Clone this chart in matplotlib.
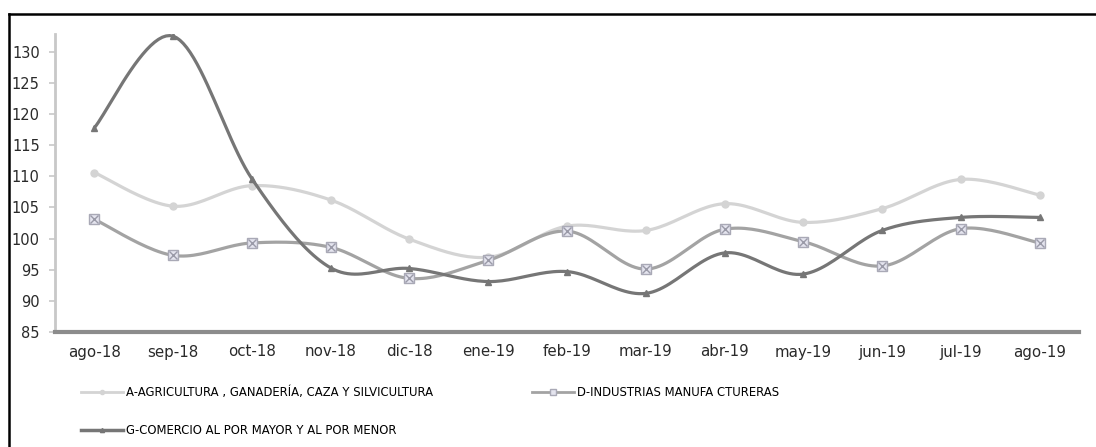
import numpy as np
import matplotlib
matplotlib.use("Agg")
import matplotlib.pyplot as plt
from matplotlib.lines import Line2D

months = ["ago-18", "sep-18", "oct-18", "nov-18", "dic-18", "ene-19", "feb-19",
          "mar-19", "abr-19", "may-19", "jun-19", "jul-19", "ago-19"]
agri = [110.6, 105.2, 108.5, 106.2, 99.9, 97.0, 102.0, 101.3, 105.6, 102.6, 104.8, 109.5, 107.0]
indus = [103.1, 97.3, 99.3, 98.6, 93.6, 96.5, 101.2, 95.1, 101.5, 99.5, 95.6, 101.6, 99.3]
comer = [117.8, 132.5, 109.6, 95.3, 95.2, 93.1, 94.7, 91.2, 97.7, 94.3, 101.3, 103.4, 103.4]
names = ["A-AGRICULTURA , GANADERÍA, CAZA Y SILVICULTURA",
         "D-INDUSTRIAS MANUFA CTURERAS",
         "G-COMERCIO AL POR MAYOR Y AL POR MENOR"]
yticks = [85, 90, 95, 100, 105, 110, 115, 120, 125, 130]

c_a, c_d, c_g = "#d4d4d4", "#a3a3a3", "#767676"

def smooth(y, n=24):
    y = np.asarray(y, float)
    x = np.arange(len(y), dtype=float)
    P = np.column_stack([x, y])
    P = np.vstack([P[0], P, P[-1]])
    out = []
    t = np.linspace(0, 1, n)[:, None]
    for i in range(1, len(P) - 2):
        p0, p1, p2, p3 = P[i - 1], P[i], P[i + 1], P[i + 2]
        c1 = p1 + (p2 - p0) / 6.0
        c2 = p2 - (p3 - p1) / 6.0
        seg = ((1 - t) ** 3) * p1 + 3 * ((1 - t) ** 2) * t * c1 + 3 * (1 - t) * t ** 2 * c2 + t ** 3 * p2
        out.append(seg if i == 1 else seg[1:])
    s = np.vstack(out)
    return s[:, 0], s[:, 1]

plt.rcParams['font.family'] = ['DejaVu Sans']
fig = plt.figure(figsize=(10.96, 4.47), dpi=100)
ax = fig.add_axes([55 / 1096, 1 - 332 / 447, (1079 - 55) / 1096, (332 - 34) / 447])

x = np.arange(len(months))
lw = 2.3
sx, sy = smooth(agri)
ax.plot(sx, sy, color=c_a, lw=lw, solid_capstyle='round', zorder=2)
ax.plot(x, agri, ls='none', marker='o', ms=5, color=c_a, zorder=3)

sx, sy = smooth(indus)
ax.plot(sx, sy, color=c_d, lw=lw, solid_capstyle='round', zorder=4)
ax.plot(x, indus, ls='none', marker='s', ms=7, mfc="#e4e4ee", mec="#a9a9b6", mew=1, zorder=5)
ax.plot(x, indus, ls='none', marker='x', ms=5.5, mec="#9a9aa8", mew=1, zorder=6)

sx, sy = smooth(comer)
ax.plot(sx, sy, color=c_g, lw=lw, solid_capstyle='round', zorder=7)
ax.plot(x, comer, ls='none', marker='^', ms=5, color=c_g, zorder=8)

ax.set_xlim(-0.5, len(months) - 0.5)
ax.set_ylim(85, 132.85)
ax.set_yticks(yticks)
ax.set_xticks(x)
ax.set_xticklabels(months)
ax.tick_params(axis='y', direction='out', length=4, width=1.2, color="#c8c8c8",
               pad=7, labelsize=10.5, labelcolor="#2a2a2a")
ax.tick_params(axis='x', length=0, pad=9, labelsize=10.8, labelcolor="#2a2a2a")
for s in ['top', 'right']:
    ax.spines[s].set_visible(False)
ax.spines['left'].set_color("#c8c8c8")
ax.spines['left'].set_linewidth(2)
ax.spines['bottom'].set_color("#8c8c8c")
ax.spines['bottom'].set_linewidth(3)

# legend handles
h_a = Line2D([], [], color=c_a, lw=2, marker='o', ms=3)
h_d = Line2D([], [], color=c_d, lw=2, marker='s', ms=4, mfc="#e4e4ee", mec="#a9a9b6")
h_g = Line2D([], [], color=c_g, lw=2.5, marker='^', ms=3)
leg_kw = dict(frameon=False, fontsize=8.4, handlelength=3.6, handletextpad=0.25,
              labelspacing=2.15, borderaxespad=0, borderpad=0)
fig.legend([h_a, h_g], [names[0], names[2]], loc='upper left',
           bbox_to_anchor=(81 / 1096, 1 - 386 / 447), **leg_kw)
fig.legend([h_d], [names[1]], loc='upper left',
           bbox_to_anchor=(532 / 1096, 1 - 386 / 447), **leg_kw)

# partial outer frame (top and left edges)
fig.add_artist(Line2D([8.5 / 1096, 8.5 / 1096], [0, 1 - 14 / 447], transform=fig.transFigure,
                      color='black', lw=1.8))
fig.add_artist(Line2D([8.5 / 1096, 1], [1 - 14 / 447, 1 - 14 / 447], transform=fig.transFigure,
                      color='black', lw=1.8))

fig.savefig("out.png", dpi=100)
